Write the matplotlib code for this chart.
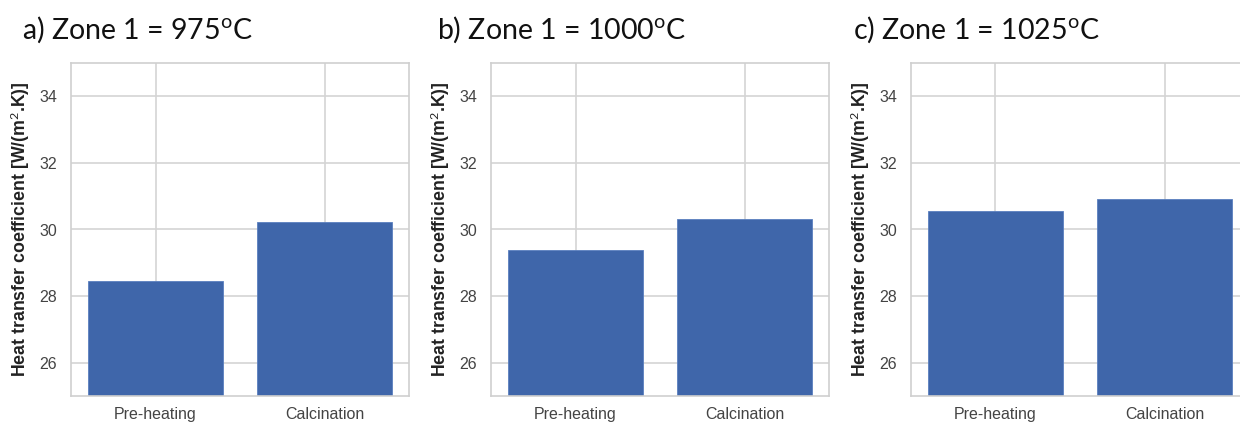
import matplotlib
matplotlib.use("Agg")
import matplotlib.pyplot as plt

stages = ["Pre-heating", "Calcination"]
titles = [r"a) Zone 1 = 975$^{\mathrm{o}}$C",
          r"b) Zone 1 = 1000$^{\mathrm{o}}$C",
          r"c) Zone 1 = 1025$^{\mathrm{o}}$C"]
htc_975 = [28.45, 30.23]
htc_1000 = [29.38, 30.31]
htc_1025 = [30.56, 30.92]
yticks = [26, 28, 30, 32, 34]

plt.rcParams["font.family"] = ["Liberation Sans", "DejaVu Sans"]
plt.rcParams["mathtext.fontset"] = "custom"
plt.rcParams["mathtext.rm"] = "Lato"
plt.rcParams["mathtext.it"] = "Lato:italic"

fig = plt.figure(figsize=(12.4, 4.23), dpi=100)

lefts = [71, 491, 911]
title_x = [22, 437, 853]
W, H = 1240, 423

for i, vals in enumerate([htc_975, htc_1000, htc_1025]):
    ax = fig.add_axes([lefts[i] / W, 27 / H, 338 / W, 333 / H])
    ax.set_axisbelow(True)
    ax.grid(True, color="#d4d4d4", linewidth=1.2)
    ax.bar(stages, vals, width=0.8, color="#3f66aa", edgecolor="#5a7fbf", linewidth=0.6)
    ax.set_xlim(-0.5, 1.5)
    ax.set_ylim(25, 35)
    ax.set_yticks(yticks)
    for s in ax.spines.values():
        s.set_color("#cfcfcf")
        s.set_linewidth(1.2)
    ax.tick_params(length=0, colors="#444444", labelsize=11.5)
    ax.tick_params(axis="y", pad=10)
    ax.tick_params(axis="x", pad=8)
    ax.set_ylabel("Heat transfer coefficient [W/(m$^{2}$.K)]", fontsize=12.8,
                  fontweight="bold", color="#222222", labelpad=5)
    fig.text(title_x[i] / W, (H - 39) / H, titles[i], fontsize=20.5,
             family="Lato", color="#111111", va="baseline", ha="left")

fig.savefig("out.png", dpi=100)
